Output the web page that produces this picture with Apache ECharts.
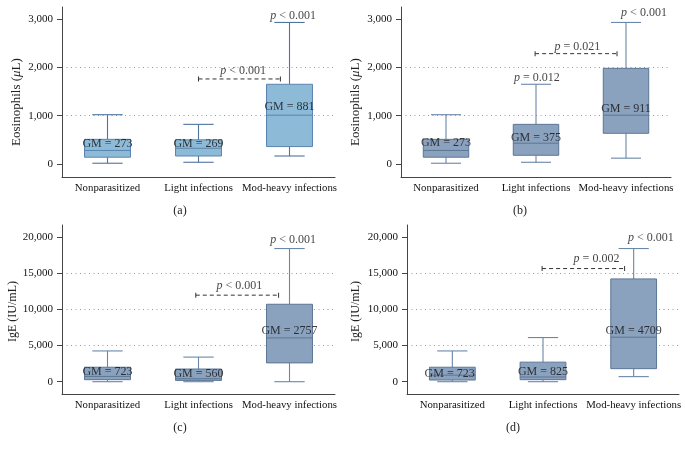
<!DOCTYPE html>
<html>
<head>
<meta charset="utf-8">
<script src="https://cdn.jsdelivr.net/npm/echarts@6/dist/echarts.min.js"></script>
<style>html,body{margin:0;padding:0;background:#fff}#c{width:685px;height:449px}</style>
</head>
<body>
<div id="c"></div>
<script>
const categories = ['Nonparasitized', 'Light infections', 'Mod-heavy infections'];
// box values: [min, Q1, median, Q3, max]
const eosBoxA = [[15, 140, 280, 510, 1020], [35, 165, 325, 500, 820], [165, 360, 1010, 1650, 2930]];
const eosBoxB = [[15, 140, 280, 510, 1020], [35, 180, 430, 820, 1650], [120, 635, 1010, 1980, 2930]];
const igeBoxC = [[0, 280, 730, 2000, 4250], [0, 180, 410, 1750, 3400], [0, 2600, 6050, 10700, 18400]];
const igeBoxD = [[0, 230, 900, 2000, 4250], [0, 280, 650, 2700, 6100], [700, 1800, 6150, 14200, 18400]];
// geometric means
const gmA = [273, 269, 881];
const gmB = [273, 375, 911];
const gmC = [723, 560, 2757];
const gmD = [723, 825, 4709];
// GM label anchors [category, value]
const gmAnchorA = [[0, 408], [1, 414], [2, 1186]];
const gmAnchorB = [[0, 428], [1, 545], [2, 1145]];
const gmAnchorC = [[0, 1420], [1, 1103], [2, 7034]];
const gmAnchorD = [[-0.03, 1062], [1, 1420], [2, 7034]];
// p-value texts and anchors [category, value]
const pTextA = ['p < 0.001', 'p < 0.001'];
const pAnchorA = [[2.04, 3070], [1.49, 1932]];
const pTextB = ['p < 0.001', 'p = 0.012', 'p = 0.021'];
const pAnchorB = [[2.2, 3120], [1.01, 1780], [1.46, 2429]];
const pTextC = ['p < 0.001', 'p < 0.001'];
const pAnchorC = [[2.04, 19586], [1.45, 13241]];
const pTextD = ['p < 0.001', 'p = 0.002'];
const pAnchorD = [[2.19, 19903], [1.59, 16924]];
// comparison brackets [fromCategory, toCategory, value]
const bracketA = [1.0, 1.9, 1760];
const bracketB = [0.99, 1.9, 2284];
const bracketC = [0.97, 1.88, 11955];
const bracketD = [0.99, 1.9, 15632];
// y axis tick labels
const eosTicks = [0, 1000, 2000, 3000];
const igeTicks = [0, 5000, 10000, 15000, 20000];

const SERIF = '"Liberation Serif", "DejaVu Serif", serif';

const panels = [
  {box: eosBoxA, gm: gmA, gmAt: gmAnchorA, pt: pTextA, pa: pAnchorA, br: bracketA, ticks: eosTicks,
   grid: {left: 62, top: 7, width: 273, height: 170}, min: -270, max: 3250,
   name: 'Eosinophils ({i|μ}L)', nameSize: 13, nameGap: 39, namePad: [0, 20, 0, 0],
   fill: '#8dbad6', stroke: '#5a84b0', whisker: '#4f74a0', sub: '(a)', subPos: [180, 211]},
  {box: eosBoxB, gm: gmB, gmAt: gmAnchorB, pt: pTextB, pa: pAnchorB, br: bracketB, ticks: eosTicks,
   grid: {left: 401, top: 7, width: 270, height: 170}, min: -270, max: 3250,
   name: 'Eosinophils ({i|μ}L)', nameSize: 13, nameGap: 39, namePad: [0, 20, 0, 0],
   fill: '#8aa2be', stroke: '#5c7696', whisker: '#6a86a8', sub: '(b)', subPos: [520, 211]},
  {box: igeBoxC, gm: gmC, gmAt: gmAnchorC, pt: pTextC, pa: pAnchorC, br: bracketC, ticks: igeTicks,
   grid: {left: 62, top: 225, width: 273, height: 169}, min: -1700, max: 21650,
   name: 'IgE (IU/mL)', nameSize: 12, nameGap: 43, namePad: [0, 4, 0, 0],
   fill: '#8aa2be', stroke: '#5c7696', whisker: '#6a86a8', sub: '(c)', subPos: [180, 428]},
  {box: igeBoxD, gm: gmD, gmAt: gmAnchorD, pt: pTextD, pa: pAnchorD, br: bracketD, ticks: igeTicks,
   grid: {left: 407, top: 225, width: 272, height: 169}, min: -1700, max: 21650,
   name: 'IgE (IU/mL)', nameSize: 12, nameGap: 45, namePad: [0, 4, 0, 0],
   fill: '#8aa2be', stroke: '#5c7696', whisker: '#6a86a8', sub: '(d)', subPos: [513, 428]}
];

function renderBox(fill, stroke, whisker) {
  return function (params, api) {
    const x = api.value(0);
    const p = [1, 2, 3, 4, 5].map(i => api.coord([x, api.value(i)]));
    const band = api.size([1, 0])[0];
    const bw = band * 0.505;
    const cw = bw * 0.66;
    const cx = p[0][0];
    const ls = {stroke: whisker, lineWidth: 1.1};
    return {
      type: 'group',
      children: [
        {type: 'line', shape: {x1: cx, y1: p[4][1], x2: cx, y2: p[3][1]}, style: ls},
        {type: 'line', shape: {x1: cx, y1: p[1][1], x2: cx, y2: p[0][1]}, style: ls},
        {type: 'line', shape: {x1: cx - cw / 2, y1: p[4][1], x2: cx + cw / 2, y2: p[4][1]}, style: ls},
        {type: 'line', shape: {x1: cx - cw / 2, y1: p[0][1], x2: cx + cw / 2, y2: p[0][1]}, style: ls},
        {type: 'rect', shape: {x: cx - bw / 2, y: p[3][1], width: bw, height: p[1][1] - p[3][1]},
         style: {fill: fill, stroke: stroke, lineWidth: 1}},
        {type: 'line', shape: {x1: cx - bw / 2, y1: p[2][1], x2: cx + bw / 2, y2: p[2][1]},
         style: {stroke: stroke, lineWidth: 1}}
      ]
    };
  };
}

const grids = [], xAxes = [], yAxes = [], series = [], graphics = [];
panels.forEach((pn, k) => {
  grids.push(pn.grid);
  xAxes.push({
    type: 'category', gridIndex: k, data: categories, position: 'bottom',
    axisLine: {show: true, onZero: false, lineStyle: {color: '#444', width: 1}},
    axisTick: {show: false},
    axisLabel: {fontFamily: SERIF, fontSize: 10.8, color: '#111', margin: 6, interval: 0},
    splitLine: {show: false}
  });
  xAxes.push({type: 'value', gridIndex: k, min: -0.5, max: 2.5, show: false,
    axisLine: {onZero: false}});
  yAxes.push({
    type: 'value', gridIndex: k, min: pn.min, max: pn.max, position: 'left',
    name: pn.name, nameLocation: 'middle', nameGap: pn.nameGap,
    nameTextStyle: {fontFamily: SERIF, fontSize: pn.nameSize, color: '#222', padding: pn.namePad,
      rich: {i: {fontFamily: SERIF, fontSize: pn.nameSize, color: '#222', fontStyle: 'italic'}}},
    axisLine: {show: true, onZero: false, lineStyle: {color: '#444', width: 1}},
    axisTick: {show: true, length: 5, customValues: pn.ticks, lineStyle: {color: '#444'}},
    axisLabel: {customValues: pn.ticks, fontFamily: SERIF, fontSize: 11, color: '#111', margin: 9,
      formatter: v => Number(v).toLocaleString('en-US')},
    splitLine: {show: true, showMinLine: false, showMaxLine: false,
      lineStyle: {color: '#9a9a9a', type: [1, 3.5], width: 1}}
  });
  series.push({
    type: 'custom', xAxisIndex: 2 * k, yAxisIndex: k,
    renderItem: renderBox(pn.fill, pn.stroke, pn.whisker),
    encode: {x: 0, y: [1, 2, 3, 4, 5]},
    data: pn.box.map((b, i) => [i].concat(b)),
    silent: true, z: 2
  });
  series.push({
    type: 'line', xAxisIndex: 2 * k + 1, yAxisIndex: k,
    data: [[pn.br[0], pn.br[2]], [pn.br[1], pn.br[2]]],
    lineStyle: {color: '#333', width: 1, type: [4, 3]},
    symbol: 'rect', symbolSize: [1, 5], showSymbol: true,
    itemStyle: {color: '#333'}, silent: true, z: 3, animation: false
  });
  series.push({
    type: 'scatter', xAxisIndex: 2 * k + 1, yAxisIndex: k, symbolSize: 0,
    data: pn.gm.map((g, i) => ({name: 'GM = ' + g, value: pn.gmAt[i]})),
    label: {show: true, position: 'inside', formatter: '{b}',
      fontFamily: SERIF, fontSize: 12, color: '#111'},
    silent: true, z: 5, animation: false
  });
  series.push({
    type: 'scatter', xAxisIndex: 2 * k + 1, yAxisIndex: k, symbolSize: 0,
    data: pn.pt.map((t, i) => ({name: t, value: pn.pa[i]})),
    label: {show: true, position: 'inside',
      formatter: p => '{i|p}' + p.name.slice(1),
      fontFamily: SERIF, fontSize: 12, color: '#111',
      rich: {i: {fontFamily: SERIF, fontSize: 12, color: '#111', fontStyle: 'italic'}}},
    silent: true, z: 5, animation: false
  });
  graphics.push({
    type: 'text', x: pn.subPos[0], y: pn.subPos[1],
    style: {text: pn.sub, fontFamily: SERIF, fontSize: 12, fill: '#222',
      textAlign: 'center', textVerticalAlign: 'middle'}
  });
});

const chart = echarts.init(document.getElementById('c'), null, {renderer: 'canvas'});
chart.setOption({
  animation: false,
  backgroundColor: '#fff',
  grid: grids, xAxis: xAxes, yAxis: yAxes, series: series, graphic: graphics
});
</script>
</body>
</html>
